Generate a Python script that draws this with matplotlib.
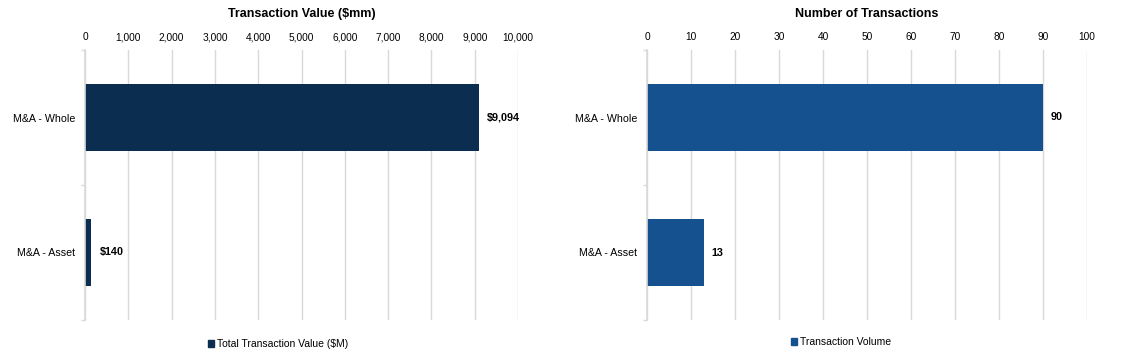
import matplotlib.pyplot as plt
from matplotlib.patches import Patch

categories = ['M&A - Whole', 'M&A - Asset']
total_value = [9094, 140]
value_labels = ['$9,094', '$140']
deal_count = [90, 13]
count_labels = ['90', '13']

value_ticks = list(range(0, 10001, 1000))
count_ticks = list(range(0, 101, 10))

NAVY = '#0b2d4f'
BLUE = '#15518e'
GRID = '#d9d9d9'

plt.rcParams['font.family'] = ['Liberation Sans', 'DejaVu Sans']

fig = plt.figure(figsize=(11.22, 3.59), dpi=100)
W, H = 1122, 359


def make_axes(x0, x1, y0=50, y1=320):
    return fig.add_axes([x0 / W, 1 - y1 / H, (x1 - x0) / W, (y1 - y0) / H])


def style(ax, ticks, fmt, xmax):
    ax.set_xlim(0, xmax)
    ax.set_ylim(1.5, -0.5)
    ax.xaxis.tick_top()
    ax.set_xticks(ticks)
    ax.set_xticklabels([fmt(t) for t in ticks], fontsize=7.3)
    ax.tick_params(axis='x', length=0, pad=5.5)
    ax.grid(axis='x', color=GRID, linewidth=1)
    ax.set_axisbelow(True)
    for s in ['top', 'right', 'bottom']:
        ax.spines[s].set_visible(False)
    ax.spines['left'].set_color(GRID)
    ax.spines['left'].set_linewidth(1.2)
    ax.set_yticks([0, 1])
    ax.set_yticklabels(categories, fontsize=7.7)
    ax.set_yticks([-0.5, 0.5, 1.5], minor=True)
    ax.tick_params(axis='y', which='major', length=0, pad=7)
    ax.tick_params(axis='y', which='minor', length=3, color=GRID, width=1)


# left panel: transaction value
ax1 = make_axes(85, 518)
ax1.barh(categories, total_value, height=0.5, color=NAVY)
style(ax1, value_ticks, lambda t: f'{t:,}', 10000)
ax1.set_title('Transaction Value ($mm)', fontsize=9, fontweight='bold', pad=11)
for i, (v, lab) in enumerate(zip(total_value, value_labels)):
    ax1.annotate(lab, (v, i), xytext=(6, 0), textcoords='offset points',
                 va='center', ha='left', fontsize=7.8, fontweight='bold')

# right panel: number of transactions
ax2 = make_axes(647, 1087)
ax2.barh(categories, deal_count, height=0.5, color=BLUE)
style(ax2, count_ticks, lambda t: f'{t}', 100)
ax2.set_title('Number of Transactions', fontsize=9, fontweight='bold', pad=11)
for i, (v, lab) in enumerate(zip(deal_count, count_labels)):
    ax2.annotate(lab, (v, i), xytext=(5.5, 0), textcoords='offset points',
                 va='center', ha='left', fontsize=7.8, fontweight='bold')

# legends
fig.legend(handles=[Patch(color=NAVY, label='Total Transaction Value ($M)')],
           loc='center', bbox_to_anchor=(278 / W, 1 - 344 / H), frameon=False,
           fontsize=7.5, handlelength=0.6, handleheight=0.6, handletextpad=0.3)
fig.legend(handles=[Patch(color=BLUE, label='Transaction Volume')],
           loc='center', bbox_to_anchor=(841 / W, 1 - 342 / H), frameon=False,
           fontsize=7.5, handlelength=0.6, handleheight=0.6, handletextpad=0.3)

fig.savefig('out.png', dpi=100)
